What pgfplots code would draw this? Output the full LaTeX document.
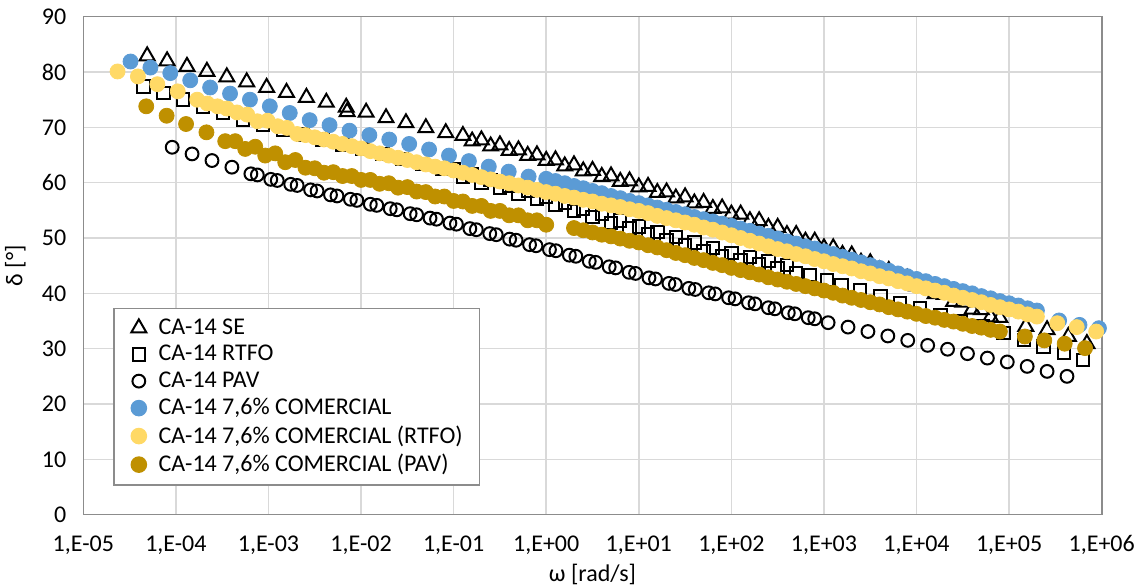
\documentclass[border=0pt]{standalone}
\usepackage{pgfplots}
\pgfplotsset{compat=1.18}
\usepackage{fontspec}
\setmainfont{Carlito}
\definecolor{cblue}{HTML}{5B9BD5}
\definecolor{cyel}{HTML}{FFD966}
\definecolor{cgold}{HTML}{BF9000}
\definecolor{gridgray}{HTML}{D9D9D9}
\definecolor{axisgray}{HTML}{8C8C8C}
\begin{document}
\begin{tikzpicture}
\begin{axis}[
  scale only axis, width=509.2pt, height=249pt,
  xmin=-5, xmax=6, ymin=0, ymax=90,
  xtick={-5,-4,...,6},
  xticklabels={{1,E-05},{1,E-04},{1,E-03},{1,E-02},{1,E-01},{1,E+00},{1,E+01},{1,E+02},{1,E+03},{1,E+04},{1,E+05},{1,E+06}},
  ytick={0,10,...,90},
  /pgf/number format/assume math mode=true,
  grid=major, grid style={draw=gridgray, line width=0.8pt},
  axis line style={draw=axisgray, line width=0.8pt},
  tick style={draw=none},
  tick label style={font=\fontsize{12}{14}\selectfont},
  yticklabel style={xshift=-5pt},
  xticklabel style={yshift=-7pt},
  label style={font=\fontsize{12}{14}\selectfont},
  xlabel={ω [rad/s]}, ylabel={δ [°]},
  xlabel style={at={(axis description cs:0.5,-0.121)}, anchor=center},
  ylabel style={at={(axis description cs:-0.0667,0.5)}, anchor=center},
  legend style={at={(0.0294,0.0582)}, anchor=south west, draw=axisgray, line width=0.8pt, fill=white,
    font=\fontsize{12}{14}\selectfont, row sep=0pt, inner xsep=6.5pt, inner ysep=3pt},
  legend cell align=left,
  legend image code/.code={\path (-1pt,0pt) (12pt,0pt); \draw[#1] plot coordinates {(4.5pt,0pt)};},
]
\coordinate (ll) at (rel axis cs:0,0);
\coordinate (ur) at (rel axis cs:1,1);
% CA-14 SE
\addplot[only marks, black, mark=triangle, mark size=4.3pt, mark options={fill=none, line width=1pt}] coordinates {
(-4.31,82.9) (-4.095,82.0) (-3.88,81.0) (-3.665,80.1) (-3.45,79.1) (-3.235,78.2) (-3.02,77.2) (-2.805,76.3) (-2.59,75.4) (-2.375,74.5) (-2.16,73.6) (-2.15,72.8) (-1.945,72.7) (-1.73,71.7) (-1.515,70.8) (-1.30,69.9) (-1.085,69.0)
(-0.9,68.5) (-0.8,67.5) (-0.7,67.7) (-0.6,66.6) (-0.5,66.8) (-0.4,65.8) (-0.3,65.9) (-0.2,64.9) (-0.1,65.0) (0.0,64.0)
(0.1,64.1) (0.2,63.0) (0.3,63.2) (0.4,62.1) (0.5,62.2) (0.6,61.1) (0.7,61.2) (0.8,60.2) (0.9,60.3) (1.0,59.2)
(1.1,59.3) (1.2,58.2) (1.3,58.3) (1.4,57.2) (1.5,57.4) (1.6,56.3) (1.7,56.4) (1.8,55.3) (1.9,55.4) (2.0,54.3)
(2.1,54.3) (2.2,53.1) (2.3,53.1) (2.4,51.9) (2.5,51.9) (2.6,50.6) (2.7,50.6) (2.8,49.4) (2.9,49.4) (3.0,48.2)
(3.1,48.2) (3.2,47.0) (3.3,46.9) (3.4,45.6) (3.5,45.5) (3.6,44.2) (3.7,44.1) (3.8,42.8) (3.9,42.7) (4.0,41.3)
(4.1,41.2) (4.2,39.9) (4.3,39.8) (4.4,38.5) (4.5,38.4) (4.6,37.1) (4.7,37.0) (4.8,35.7) (4.9,35.6)
(5.18,34.0) (5.41,33.4) (5.64,32.2) (5.84,30.9)
};
\addlegendentry{CA-14 SE}
% CA-14 RTFO
\addplot[only marks, black, mark=square, mark size=3.1pt, mark options={fill=none, line width=1pt}] coordinates {
(-4.35,77.4) (-4.135,76.2) (-3.92,75.0) (-3.705,73.8) (-3.49,72.6) (-3.275,71.4) (-3.06,70.5) (-2.845,69.6) (-2.63,68.7) (-2.415,67.8) (-2.20,66.9) (-1.985,66.1) (-1.77,65.2) (-1.555,64.3) (-1.34,63.4) (-1.125,62.5)
(-1.0,62.5) (-0.9,61.0) (-0.8,61.5) (-0.7,60.0) (-0.6,60.5) (-0.5,59.0) (-0.4,59.5) (-0.3,58.0) (-0.2,58.5) (-0.1,57.0) (0.0,57.5)
(0.1,56.0) (0.2,56.4) (0.3,54.9) (0.4,55.3) (0.5,53.8) (0.6,54.3) (0.7,52.7) (0.8,53.2) (0.9,51.7) (1.0,52.1)
(1.1,50.6) (1.2,51.1) (1.3,49.6) (1.4,50.2) (1.5,48.7) (1.6,49.2) (1.7,47.7) (1.8,48.2) (1.9,46.7) (2.0,47.3)
(2.1,46.0) (2.2,46.6) (2.3,45.2) (2.4,45.8) (2.5,44.5) (2.6,45.1) (2.7,43.6)
(2.85,43.3) (3.03,42.4) (3.19,41.5) (3.39,40.6) (3.61,39.4) (3.82,38.2) (4.04,37.3) (4.26,36.1) (4.48,35.0) (4.72,34.0) (4.94,32.8) (5.16,31.6) (5.37,30.4) (5.59,29.2) (5.80,28.0)
};
\addlegendentry{CA-14 RTFO}
% CA-14 PAV
\addplot[only marks, black, mark=o, mark size=3.2pt, mark options={fill=none, line width=1pt}] coordinates {
(-4.04,66.4) (-3.825,65.2) (-3.61,64.0) (-3.395,62.8)
(-3.19,61.6) (-3.12,61.4) (-2.975,60.6) (-2.905,60.4) (-2.76,59.7) (-2.69,59.5) (-2.545,58.7) (-2.475,58.5)
(-2.33,57.8) (-2.26,57.6) (-2.115,57.0) (-2.045,56.8) (-1.90,56.1) (-1.83,55.9) (-1.685,55.3) (-1.615,55.1)
(-1.47,54.4) (-1.40,54.2) (-1.255,53.6) (-1.185,53.4) (-1.04,52.7) (-0.97,52.5) (-0.825,51.7) (-0.755,51.5)
(-0.61,50.8) (-0.54,50.6) (-0.395,49.8) (-0.325,49.6) (-0.18,48.8) (-0.11,48.6) (0.035,47.9) (0.105,47.7)
(0.25,46.9) (0.32,46.7) (0.465,45.8) (0.535,45.6) (0.68,44.8) (0.75,44.6) (0.895,43.8) (0.965,43.6)
(1.11,42.8) (1.18,42.6) (1.325,41.8) (1.395,41.6) (1.54,40.9) (1.61,40.7) (1.755,40.1) (1.825,39.9)
(1.97,39.2) (2.04,39.0) (2.185,38.3) (2.255,38.1) (2.40,37.4) (2.47,37.2) (2.615,36.5) (2.685,36.3) (2.83,35.6) (2.90,35.4)
(3.045,34.7) (3.26,33.9) (3.475,33.1) (3.69,32.3) (3.905,31.5) (4.12,30.6) (4.335,29.9) (4.55,29.1) (4.765,28.3) (4.98,27.6) (5.195,26.8) (5.41,25.9) (5.625,25.0)
};
\addlegendentry{CA-14 PAV}
% CA-14 7,6% COMERCIAL
\addplot[only marks, cblue, mark=*, mark size=3.75pt] coordinates {
(-4.49,81.9) (-4.275,80.8) (-4.06,79.8) (-3.845,78.5) (-3.63,77.2) (-3.415,76.1) (-3.20,75.0) (-2.985,73.8) (-2.77,72.6) (-2.555,71.3) (-2.34,70.4) (-2.125,69.4) (-1.91,68.6) (-1.695,67.8) (-1.48,67.0) (-1.265,66.0) (-1.05,64.9) (-0.835,63.9) (-0.62,62.9) (-0.405,62.0) (-0.19,61.1)
(0.0,60.7) (0.1,60.3) (0.2,59.9) (0.3,59.4) (0.4,59.0) (0.5,58.5) (0.6,58.1) (0.7,57.6) (0.8,57.2) (0.9,56.7) (1.0,56.3)
(1.1,55.9) (1.2,55.5) (1.3,55.1) (1.4,54.7) (1.5,54.3) (1.6,53.8) (1.7,53.4) (1.8,53.0) (1.9,52.6) (2.0,52.2)
(2.1,51.7) (2.2,51.3) (2.3,50.8) (2.4,50.4) (2.5,49.9) (2.6,49.4) (2.7,49.0) (2.8,48.5) (2.9,48.1) (3.0,47.6)
(3.1,47.1) (3.2,46.6) (3.3,46.1) (3.4,45.6) (3.5,45.1) (3.6,44.6) (3.7,44.1) (3.8,43.6) (3.9,43.1) (4.0,42.6)
(4.1,42.2) (4.2,41.7) (4.3,41.3) (4.4,40.8) (4.5,40.4) (4.6,40.0) (4.7,39.5) (4.8,39.1) (4.9,38.6) (5.0,38.2)
(5.1,37.8) (5.2,37.3) (5.3,36.9)
(5.54,35.1) (5.76,34.3) (5.97,33.7)
};
\addlegendentry{CA-14 7,6\% COMERCIAL}
% CA-14 7,6% COMERCIAL (RTFO)
\addplot[only marks, cyel, mark=*, mark size=3.75pt] coordinates {
(-4.63,80.1) (-4.41,79.2) (-4.20,77.8) (-3.98,76.5)
(-3.77,75.0) (-3.66,74.3) (-3.55,73.8) (-3.45,73.4) (-3.34,72.7) (-3.23,72.3) (-3.12,71.1) (-3.01,71.2) (-2.90,70.2) (-2.80,69.9) (-2.69,68.8)
(-2.6,68.6) (-2.5,68.2) (-2.4,67.8) (-2.3,67.4) (-2.2,67.0) (-2.1,66.6) (-2.0,66.2) (-1.9,65.7) (-1.8,65.3) (-1.7,64.9) (-1.6,64.5) (-1.5,64.1)
(-1.4,63.7) (-1.3,63.3) (-1.2,62.9) (-1.1,62.6) (-1.0,62.2) (-0.9,61.8) (-0.8,61.4) (-0.7,61.0) (-0.6,60.6) (-0.5,60.2)
(-0.4,59.9) (-0.3,59.5) (-0.2,59.1) (-0.1,58.7) (0.0,58.3)
(0.1,58.0) (0.2,57.6) (0.3,57.3) (0.4,56.9) (0.5,56.6) (0.6,56.2) (0.7,55.9) (0.8,55.6) (0.9,55.2) (1.0,54.9)
(1.1,54.5) (1.2,54.0) (1.3,53.6) (1.4,53.2) (1.5,52.8) (1.6,52.4) (1.7,51.9) (1.8,51.5) (1.9,51.0) (2.0,50.5)
(2.1,50.0) (2.2,49.5) (2.3,49.0) (2.4,48.5) (2.5,48.0) (2.6,47.6) (2.7,47.1) (2.8,46.7) (2.9,46.2) (3.0,45.8)
(3.1,45.3) (3.2,44.9) (3.3,44.5) (3.4,44.0) (3.5,43.6) (3.6,43.1) (3.7,42.7) (3.8,42.2) (3.9,41.8) (4.0,41.3)
(4.1,40.9) (4.2,40.5) (4.3,40.1) (4.4,39.6) (4.5,39.2) (4.6,38.8) (4.7,38.4) (4.8,37.9) (4.9,37.5) (5.0,37.1)
(5.1,36.7) (5.2,36.2) (5.3,35.8)
(5.52,34.6) (5.73,33.9) (5.94,33.1)
};
\addlegendentry{CA-14 7,6\% COMERCIAL (RTFO)}
% CA-14 7,6% COMERCIAL (PAV)
\addplot[only marks, cgold, mark=*, mark size=3.75pt] coordinates {
(-4.32,73.8) (-4.10,72.1) (-3.89,70.6) (-3.67,69.1)
(-3.467,67.5) (-3.359,67.5) (-3.251,66.1) (-3.143,66.5) (-3.035,64.9) (-2.927,65.3) (-2.819,63.7) (-2.71,64.1) (-2.60,62.7)
(-2.5,62.6) (-2.4,61.8) (-2.3,61.9) (-2.2,61.2) (-2.1,61.2) (-2.0,60.5) (-1.9,60.5) (-1.8,59.8) (-1.7,59.9) (-1.6,59.1) (-1.5,59.2)
(-1.4,58.4) (-1.3,58.3) (-1.2,57.5) (-1.1,57.5) (-1.0,56.7) (-0.9,56.6) (-0.8,55.8) (-0.7,55.8) (-0.6,54.9) (-0.5,54.9)
(-0.4,54.1) (-0.3,54.1) (-0.2,53.2) (-0.1,53.2) (0.0,52.4)
(0.3,51.8) (0.4,51.4) (0.5,51.0) (0.6,50.6) (0.7,50.3) (0.8,49.9) (0.9,49.5) (1.0,49.2)
(1.1,48.7) (1.2,48.3) (1.3,47.8) (1.4,47.3) (1.5,46.9) (1.6,46.4) (1.7,46.0) (1.8,45.5) (1.9,45.1) (2.0,44.6)
(2.1,44.2) (2.2,43.8) (2.3,43.4) (2.4,42.9) (2.5,42.5) (2.6,42.1) (2.7,41.7) (2.8,41.3) (2.9,40.9) (3.0,40.5)
(3.1,40.1) (3.2,39.6) (3.3,39.2) (3.4,38.8) (3.5,38.4) (3.6,38.0) (3.7,37.5) (3.8,37.1) (3.9,36.7) (4.0,36.3)
(4.1,35.9) (4.2,35.6) (4.3,35.2) (4.4,34.9) (4.5,34.5) (4.6,34.1) (4.7,33.8) (4.8,33.4) (4.9,33.1)
(5.17,32.2) (5.38,31.5) (5.60,30.9) (5.82,30.1)
};
\addlegendentry{CA-14 7,6\% COMERCIAL (PAV)}
\end{axis}
\pgfresetboundingbox
\path[use as bounding box] ([shift={(-41.65pt,-36.15pt)}]ll) rectangle ([shift={(20.15pt,8.35pt)}]ur);
\end{tikzpicture}
\end{document}
